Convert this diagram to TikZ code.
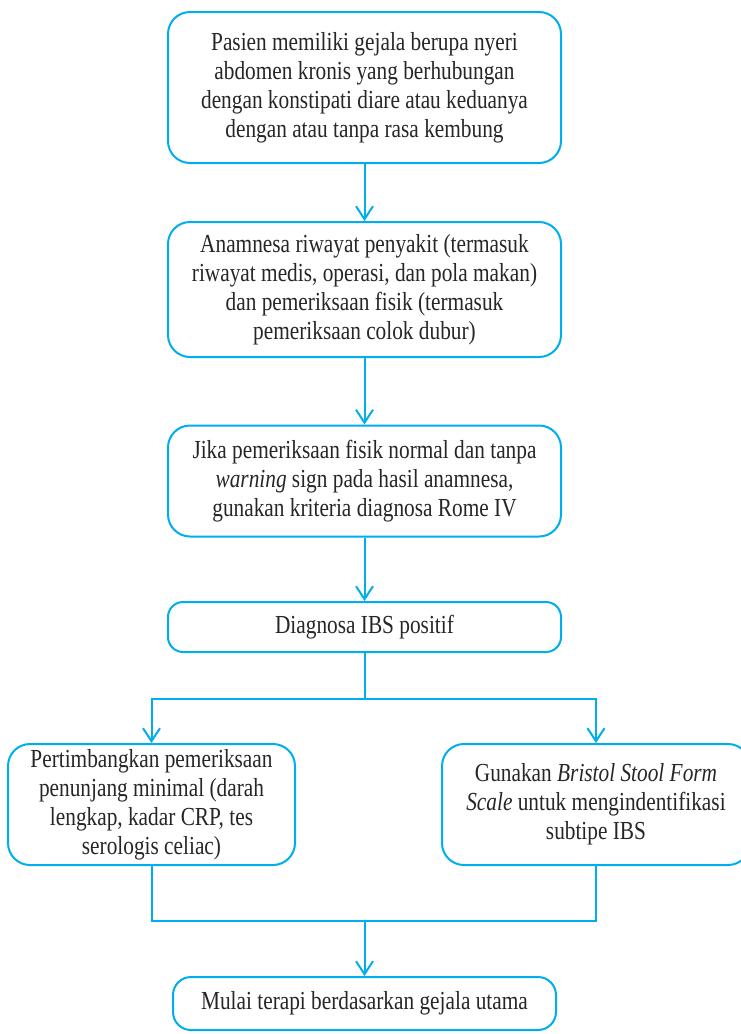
\documentclass[tikz,border=0pt]{standalone}
\usepackage{fontspec}
\setmainfont{Liberation Serif}[FakeStretch=0.82]
\usetikzlibrary{arrows.meta}
\definecolor{flow}{RGB}{0,174,239}
\tikzset{
  box/.style={draw=flow, line width=2pt, rounded corners=22pt, align=center,
    inner sep=0pt, font=\fontsize{26}{29}\selectfont, text=black!85},
  smallbox/.style={box, rounded corners=15pt},
  conn/.style={draw=flow, line width=2pt},
  arr/.style={conn, -{Straight Barb[length=13pt,width=17pt,line width=2pt]}},
}
\begin{document}
\begin{tikzpicture}[x=1pt,y=-1pt]
\useasboundingbox (0,0) rectangle (741,1034);
\node[box, minimum width=393pt, minimum height=151pt] (b1) at (364.5,87.5)
  {Pasien memiliki gejala berupa nyeri\\abdomen kronis yang berhubungan\\dengan konstipati diare atau keduanya\\dengan atau tanpa rasa kembung};
\node[box, minimum width=393pt, minimum height=135pt] (b2) at (364.5,289.5)
  {Anamnesa riwayat penyakit (termasuk\\riwayat medis, operasi, dan pola makan)\\dan pemeriksaan fisik (termasuk\\pemeriksaan colok dubur)};
\node[box, minimum width=393pt, minimum height=111pt] (b3) at (364.5,481)
  {Jika pemeriksaan fisik normal dan tanpa\\\textit{warning} sign pada hasil anamnesa,\\gunakan kriteria diagnosa Rome IV};
\node[smallbox, minimum width=393pt, minimum height=50pt] (b4) at (364.5,627)
  {Diagnosa IBS positif};
\node[box, minimum width=287pt, minimum height=121pt] (b5) at (151.5,804.5)
  {Pertimbangkan pemeriksaan\\penunjang minimal (darah\\lengkap, kadar CRP, tes\\serologis celiac)};
\node[box, minimum width=308pt, minimum height=121pt] (b6) at (596,804.5)
  {Gunakan \textit{Bristol Stool Form}\\\textit{Scale} untuk mengindentifikasi\\subtipe IBS};
\node[box, rounded corners=18pt, minimum width=383pt, minimum height=53pt] (b7) at (364.5,1003.5)
  {Mulai terapi berdasarkan gejala utama};
\coordinate (split) at (364.5,699);
\coordinate (merge) at (364.5,921);
\draw[arr] (b1) -- (b2);
\draw[arr] (b2) -- (b3);
\draw[arr] (b3) -- (b4);
\draw[conn] (b4) -- (split);
\draw[arr] (split) -| (b5.north);
\draw[arr] (split) -| (b6.north);
\draw[conn] (b5.south) |- (merge);
\draw[conn] (b6.south) |- (merge);
\draw[arr] (merge) -- (b7);
\end{tikzpicture}
\end{document}
